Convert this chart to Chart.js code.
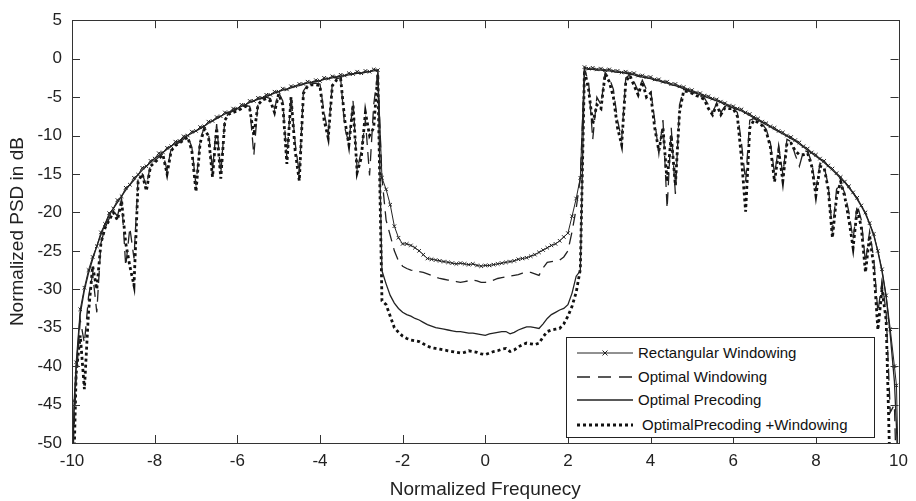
<!DOCTYPE html>
<html>
<head>
<meta charset="utf-8">
<script src="https://cdn.jsdelivr.net/npm/chart.js@4.4.1/dist/chart.umd.min.js"></script>
<style>
  html, body { margin: 0; padding: 0; background: #fff; }
  #wrap { position: relative; width: 916px; height: 501px; }
  #legend { position: absolute; left: 566px; top: 337px; width: 307px; height: 99px;
            border: 1px solid #222; background: #fff; font-family: 'Liberation Sans', Arial, sans-serif;
            font-size: 15px; color: #111; }
  .row { position: absolute; left: 0; height: 18px; width: 300px; }
  .row svg { position: absolute; left: 10px; top: 4px; }
  .row span { position: absolute; left: 71px; top: 0; line-height: 18px; white-space: nowrap; }
</style>
</head>
<body>
<div id="wrap">
  <canvas id="c" width="916" height="501"></canvas>
  <div id="legend">
    <div class="row" style="top:6px"><svg width="56" height="10"><line x1="0" y1="5" x2="56" y2="5" stroke="#222" stroke-width="1"/><path d="M25.5 2.5 L30.5 7.5 M30.5 2.5 L25.5 7.5" stroke="#222" stroke-width="1"/></svg><span>Rectangular Windowing</span></div>
    <div class="row" style="top:30px"><svg width="56" height="10"><line x1="0" y1="5" x2="56" y2="5" stroke="#222" stroke-width="1.3" stroke-dasharray="13 8"/></svg><span>Optimal Windowing</span></div>
    <div class="row" style="top:53px"><svg width="56" height="10"><line x1="0" y1="5" x2="56" y2="5" stroke="#222" stroke-width="1.3"/></svg><span>Optimal Precoding</span></div>
    <div class="row" style="top:78px"><svg width="56" height="10"><line x1="0" y1="5" x2="56" y2="5" stroke="#111" stroke-width="3" stroke-dasharray="3 3"/></svg><span style="left:75px">OptimalPrecoding +Windowing</span></div>
  </div>
</div>
<script>
// ---------------- DATA ----------------
const freqLeft = [
  -10, -9.95, -9.9, -9.8, -9.7, -9.6, -9.5, -9.4, -9.3, -9.2,
  -9.1, -9, -8.9, -8.8, -8.7, -8.6, -8.5, -8.4, -8.3, -8.2,
  -8.1, -8, -7.9, -7.8, -7.7, -7.6, -7.5, -7.4, -7.3, -7.2,
  -7.1, -7, -6.9, -6.8, -6.7, -6.6, -6.5, -6.4, -6.3, -6.2,
  -6.1, -6, -5.9, -5.8, -5.7, -5.6, -5.5, -5.4, -5.3, -5.2,
  -5.1, -5, -4.9, -4.8, -4.7, -4.6, -4.5, -4.4, -4.3, -4.2,
  -4.1, -4, -3.9, -3.8, -3.7, -3.6, -3.5, -3.4, -3.3, -3.2,
  -3.1, -3, -2.9, -2.8, -2.7, -2.6
];
const freqBand = [
  -2.5, -2.4, -2.3, -2.2, -2.1, -2, -1.9, -1.8, -1.7, -1.6,
  -1.5, -1.4, -1.3, -1.2, -1.1, -1, -0.9, -0.8, -0.7, -0.6,
  -0.5, -0.4, -0.3, -0.2, -0.1, 0, 0.1, 0.2, 0.3, 0.4,
  0.5, 0.6, 0.7, 0.8, 0.9, 1, 1.1, 1.2, 1.3, 1.4,
  1.5, 1.6, 1.7, 1.8, 1.9, 2, 2.1, 2.2, 2.3
];
const freqRight = [
  2.4, 2.5, 2.6, 2.7, 2.8, 2.9, 3, 3.1, 3.2, 3.3,
  3.4, 3.5, 3.6, 3.7, 3.8, 3.9, 4, 4.1, 4.2, 4.3,
  4.4, 4.5, 4.6, 4.7, 4.8, 4.9, 5, 5.1, 5.2, 5.3,
  5.4, 5.5, 5.6, 5.7, 5.8, 5.9, 6, 6.1, 6.2, 6.3,
  6.4, 6.5, 6.6, 6.7, 6.8, 6.9, 7, 7.1, 7.2, 7.3,
  7.4, 7.5, 7.6, 7.7, 7.8, 7.9, 8, 8.1, 8.2, 8.3,
  8.4, 8.5, 8.6, 8.7, 8.8, 8.9, 9, 9.1, 9.2, 9.3,
  9.4, 9.5, 9.6, 9.7, 9.8, 9.9, 9.95, 10
];

// Rectangular Windowing
const rectLeft = [
  -55, -44.5, -39.5, -32.6, -29.8, -27.5, -25.8, -24.4, -22.6, -21.5,
  -20.1, -19.5, -18.4, -17.9, -16.8, -16.4, -15.5, -15.1, -14.2, -14.0,
  -13.3, -13.0, -12.3, -12.2, -11.6, -11.4, -10.8, -10.7, -10.1, -10.0,
  -9.5, -9.4, -8.9, -8.8, -8.2, -8.1, -7.6, -7.5, -7.0, -7.0,
  -6.5, -6.5, -6.0, -6.0, -5.5, -5.5, -5.1, -5.1, -4.7, -4.7,
  -4.3, -4.3, -3.9, -4.0, -3.6, -3.6, -3.3, -3.3, -3.0, -3.1,
  -2.8, -2.9, -2.5, -2.6, -2.3, -2.4, -2.1, -2.2, -1.9, -2.0,
  -1.7, -1.9, -1.6, -1.7, -1.4, -1.5
];
const rectBand = [
  -15.5, -17.0, -19.0, -21.8, -23.3, -24.1, -24.1, -24.3, -24.6, -25.0,
  -25.5, -26.0, -26.1, -26.2, -26.3, -26.4, -26.5, -26.6, -26.7, -26.6,
  -26.7, -26.8, -26.7, -26.9, -27.0, -26.9, -26.9, -26.8, -26.7, -26.6,
  -26.5, -26.4, -26.3, -26.1, -26.0, -25.9, -25.7, -25.5, -25.2, -24.9,
  -24.6, -24.3, -24.1, -23.7, -23.2, -22.7, -20.5, -18.2, -15.5
];
const rectRight = [
  -1.1, -1.3, -1.2, -1.4, -1.3, -1.5, -1.4, -1.6, -1.6, -1.8,
  -1.7, -1.9, -1.9, -2.2, -2.2, -2.4, -2.4, -2.7, -2.7, -3.0,
  -3.0, -3.3, -3.3, -3.6, -3.7, -4.0, -4.1, -4.4, -4.5, -4.8,
  -4.9, -5.2, -5.3, -5.6, -5.8, -6.1, -6.2, -6.5, -6.6, -7.0,
  -7.2, -7.6, -7.8, -8.2, -8.4, -8.8, -9.0, -9.4, -9.6, -10.0,
  -10.2, -10.6, -10.9, -11.4, -11.7, -12.2, -12.5, -13.0, -13.3, -13.9,
  -14.3, -14.9, -15.4, -16.0, -16.6, -17.4, -18.1, -19.1, -20.0, -21.4,
  -22.8, -25.0, -27.4, -30.8, -35.2, -40, -42.5, -55
];

// Optimal Windowing
const owLeft = [
  -55, -48, -42, -34, -37, -31, -28, -33, -24, -22,
  -20.8, -19.8, -20.5, -18.2, -27, -22, -26, -15.5, -15, -16.5,
  -13.8, -13.3, -12.8, -12.4, -14.5, -11.7, -11.2, -10.9, -10.5, -10.1,
  -11.5, -16.5, -10.5, -9, -9.5, -14.5, -8.5, -15, -7.8, -7.1,
  -6.8, -6.6, -6.3, -6.1, -6.2, -12.6, -5.8, -5.2, -5.0, -5.2,
  -6.5, -4.4, -5.5, -13, -4.8, -11, -15, -4.2, -3.4, -3.2,
  -3.2, -3.3, -7, -9.8, -3.2, -2.6, -2.5, -9, -11, -5.5,
  -14.5, -12, -8, -15.2, -6, -1.8
];
const owBand = [
  -15.5, -21.0, -23.0, -25.0, -26.3, -27.0, -27.3, -27.5, -27.6, -27.7,
  -27.8, -28.0, -28.2, -28.4, -28.6, -28.7, -28.8, -28.9, -29.0, -29.1,
  -29.0, -28.9, -28.8, -28.9, -29.1, -29.1, -29.0, -28.8, -28.6, -28.5,
  -28.4, -28.3, -28.2, -28.1, -27.9, -27.8, -27.8, -28.0, -28.2, -27.2,
  -26.5, -26.4, -26.3, -26.2, -25.8, -25.0, -22.5, -19.5, -15.5
];
const owRight = [
  -1.4, -3, -10.5, -5, -6, -1.8, -2.5, -4, -8, -10.5,
  -2.5, -2.1, -3, -4.2, -2.8, -4, -4, -8, -12.4, -8,
  -19.5, -9, -17.6, -6, -4, -4.2, -4.4, -4.6, -4.9, -5.1,
  -6, -7, -5.8, -7, -6.2, -6.3, -6.4, -7, -11, -16,
  -8, -7.8, -8.1, -8.5, -9.2, -11, -15, -11.5, -15, -10.5,
  -10.8, -12.5, -14, -12, -12.1, -13.5, -17, -13.6, -14, -16.5,
  -22.5, -17, -16.2, -17.5, -20, -23.5, -19, -21, -26.5, -22.5,
  -26, -33, -29, -33, -46, -45, -55, -55
];

// Optimal Precoding
const opLeft = [
  -55, -46, -40.5, -33.2, -30.1, -27.9, -26.1, -24.4, -22.9, -21.5,
  -20.4, -19.5, -18.7, -17.9, -17.1, -16.4, -15.8, -15.1, -14.5, -14.0,
  -13.5, -13.0, -12.6, -12.2, -11.8, -11.4, -11.0, -10.7, -10.3, -10.0,
  -9.7, -9.4, -9.1, -8.8, -8.4, -8.1, -7.8, -7.5, -7.2, -7.0,
  -6.7, -6.5, -6.2, -6.0, -5.7, -5.5, -5.3, -5.1, -4.9, -4.7,
  -4.5, -4.3, -4.1, -4.0, -3.8, -3.6, -3.5, -3.3, -3.2, -3.1,
  -3.0, -2.9, -2.7, -2.6, -2.5, -2.4, -2.3, -2.2, -2.1, -2.0,
  -1.9, -1.9, -1.8, -1.7, -1.6, -1.5
];
const opBand = [
  -27.6, -29.3, -30.8, -31.8, -32.5, -33.0, -33.3, -33.5, -33.8, -34.0,
  -34.3, -34.6, -34.8, -35.0, -35.1, -35.2, -35.3, -35.4, -35.5, -35.5,
  -35.6, -35.7, -35.7, -35.8, -35.9, -36.0, -35.8, -35.7, -35.6, -35.5,
  -35.5, -35.8, -35.6, -35.3, -35.1, -34.9, -34.9, -35.0, -35.1, -34.5,
  -33.8, -33.3, -33.0, -32.7, -32.5, -32.0, -30.5, -28.3, -27.6
];
const opRight = [
  -1.3, -1.4, -1.4, -1.5, -1.5, -1.6, -1.6, -1.7, -1.8, -1.8,
  -1.9, -2.0, -2.1, -2.3, -2.4, -2.5, -2.6, -2.8, -2.9, -3.1,
  -3.2, -3.4, -3.5, -3.7, -3.9, -4.1, -4.3, -4.5, -4.7, -4.9,
  -5.1, -5.3, -5.5, -5.7, -6.0, -6.2, -6.4, -6.6, -6.8, -7.1,
  -7.4, -7.7, -8.0, -8.3, -8.6, -8.9, -9.2, -9.5, -9.8, -10.1,
  -10.4, -10.7, -11.1, -11.5, -11.9, -12.3, -12.7, -13.1, -13.5, -14.0,
  -14.5, -15.0, -15.6, -16.1, -16.8, -17.5, -18.3, -19.2, -20.2, -21.5,
  -23.0, -25.1, -27.7, -31.0, -36.0, -42, -48, -55
];

// OptimalPrecoding + Windowing
const opwLeft = [
  -55, -52, -41, -36, -43, -33, -27, -30, -24, -22,
  -21, -20, -21, -18.5, -24, -27, -29.5, -16, -15, -17.2,
  -14, -13.5, -13, -12.5, -15, -12, -11.3, -11, -10.6, -10.2,
  -12, -17.3, -11, -9.2, -10, -15.4, -9, -15.6, -8, -7.2,
  -7, -6.8, -6.5, -6.2, -6.5, -10, -6, -5.4, -5.2, -5.5,
  -7, -4.6, -6, -13.7, -5, -12, -15.9, -4.5, -3.6, -3.4,
  -3.4, -3.5, -8, -10.3, -3.5, -2.8, -2.6, -8, -11.2, -6,
  -14.8, -12.9, -7, -10, -9, -2
];
const opwBand = [
  -31.5, -32.0, -33.5, -35.0, -35.6, -36.1, -36.4, -36.6, -36.7, -36.8,
  -37.1, -37.4, -37.6, -37.7, -37.8, -37.9, -38.0, -38.1, -38.2, -38.3,
  -38.2, -38.0, -38.1, -38.2, -38.4, -38.5, -38.3, -38.1, -38.0, -37.8,
  -37.7, -38.1, -37.9, -37.5, -37.2, -37.0, -37.1, -37.2, -37.0, -36.2,
  -35.5, -35.3, -35.2, -35.1, -34.5, -33.5, -32.2, -30.4, -27.4
];
const opwRight = [
  -1.5, -4, -8.5, -6, -6.5, -2, -3, -5, -9, -11.2,
  -3, -2.2, -3.5, -4.7, -3, -5, -4.5, -9, -12, -9,
  -16, -10, -16.5, -7, -4.2, -4.3, -4.5, -4.8, -5, -5.3,
  -6.5, -7.3, -6, -7.3, -6.4, -6.5, -6.5, -7.5, -13, -19.9,
  -9, -8, -8.3, -8.7, -9.5, -11.5, -16, -12, -15.9, -11,
  -11, -12, -12.5, -12.5, -12.3, -14, -17.8, -14, -14.2, -17,
  -23.3, -18, -16, -18, -21, -24.6, -19.5, -22, -27.8, -23,
  -27, -35.3, -30, -34, -55, -55, -55, -55
];

const xTicks = [-10, -8, -6, -4, -2, 0, 2, 4, 6, 8, 10];
const yTicks = [5, 0, -5, -10, -15, -20, -25, -30, -35, -40, -45, -50];

// ---------------- BUILD ----------------
const freq = [...freqLeft, ...freqBand, ...freqRight];
const rectWin = [...rectLeft, ...rectBand, ...rectRight];
const optWin = [...owLeft, ...owBand, ...owRight];
const optPre = [...opLeft, ...opBand, ...opRight];
const optPreWin = [...opwLeft, ...opwBand, ...opwRight];
const pts = arr => freq.map((f, i) => ({ x: f, y: arr[i] }));

const FONT = "'Liberation Sans', Arial, sans-serif";
const INK = '#222';

const boxTicks = {
  id: 'boxTicks',
  afterDatasetsDraw(chart) {
    const { ctx, chartArea: a, scales: { x, y } } = chart;
    ctx.save();
    ctx.strokeStyle = '#333';
    ctx.lineWidth = 1;
    ctx.beginPath();
    const L = 8;
    xTicks.forEach(v => {
      const px = Math.round(x.getPixelForValue(v)) + 0.5;
      ctx.moveTo(px, a.bottom); ctx.lineTo(px, a.bottom - L);
      ctx.moveTo(px, a.top); ctx.lineTo(px, a.top + L);
    });
    yTicks.forEach(v => {
      const py = Math.round(y.getPixelForValue(v)) + 0.5;
      ctx.moveTo(a.left, py); ctx.lineTo(a.left + L, py);
      ctx.moveTo(a.right, py); ctx.lineTo(a.right - L, py);
    });
    ctx.stroke();
    ctx.strokeRect(Math.round(a.left) + 0.5, Math.round(a.top) + 0.5,
                   Math.round(a.right - a.left), Math.round(a.bottom - a.top));
    ctx.restore();
  }
};

new Chart(document.getElementById('c'), {
  type: 'line',
  data: {
    datasets: [
      { label: 'Rectangular Windowing', data: pts(rectWin), borderColor: INK, borderWidth: 1,
        pointStyle: 'crossRot', pointRadius: 2.5, pointBorderWidth: 1, pointBorderColor: INK,
        pointBackgroundColor: INK },
      { label: 'Optimal Windowing', data: pts(optWin), borderColor: INK, borderWidth: 1.3,
        borderDash: [12, 7], pointRadius: 0 },
      { label: 'Optimal Precoding', data: pts(optPre), borderColor: INK, borderWidth: 1.3,
        pointRadius: 0 },
      { label: 'OptimalPrecoding +Windowing', data: pts(optPreWin), borderColor: '#111', borderWidth: 2.8,
        borderDash: [3, 3], pointRadius: 0 }
    ]
  },
  options: {
    responsive: false,
    animation: false,
    devicePixelRatio: 1,
    layout: { padding: { top: 14, right: 14, left: 0, bottom: 0 } },
    elements: { line: { tension: 0, fill: false } },
    plugins: { legend: { display: false }, tooltip: { enabled: false } },
    scales: {
      x: {
        type: 'linear', min: -10, max: 10,
        afterFit: s => { s.height = 58; },
        afterBuildTicks: s => { s.ticks = xTicks.map(v => ({ value: v })); },
        grid: { display: false, drawTicks: false },
        border: { display: false },
        ticks: { color: INK, font: { family: FONT, size: 17 }, padding: 8, maxRotation: 0, autoSkip: false },
        title: { display: true, text: 'Normalized Frequnecy', color: INK,
                 font: { family: FONT, size: 19 }, padding: { top: 2.6, bottom: 0 } }
      },
      y: {
        type: 'linear', min: -50, max: 5,
        afterFit: s => { s.width = 72; },
        afterBuildTicks: s => { s.ticks = yTicks.map(v => ({ value: v })); },
        grid: { display: false, drawTicks: false },
        border: { display: false },
        ticks: { color: INK, font: { family: FONT, size: 17 }, padding: 10, autoSkip: false },
        title: { display: true, text: 'Normalized PSD in dB', color: INK,
                 font: { family: FONT, size: 19 }, padding: { top: 6.6, bottom: 0 } }
      }
    }
  },
  plugins: [boxTicks]
});
</script>
</body>
</html>
